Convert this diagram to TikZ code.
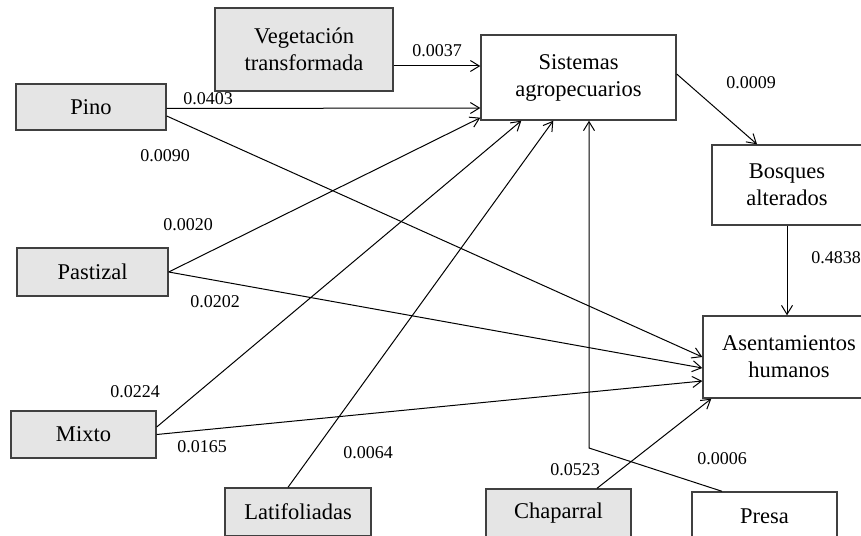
\documentclass[tikz,border=0pt]{standalone}
\usepackage{fontspec}
\setmainfont{Liberation Serif}
\usetikzlibrary{arrows.meta,calc}
\begin{document}
\begin{tikzpicture}[x=0.5pt,y=-0.5pt,
  box/.style={draw=black!75, line width=0.7pt, fill=white, align=center,
              inner sep=0pt, font=\fontsize{11.25}{13.5}\selectfont},
  src/.style={box, fill=black!10},
  arr/.style={-{Straight Barb[length=4.5pt,width=5.5pt]}, line width=0.5pt},
  val/.style={font=\fontsize{9}{10}\selectfont, inner sep=0pt}]
\useasboundingbox (0,0) rectangle (861,535);
\clip (0,0) rectangle (861,535);

% land-cover classes (sources)
\node[src, minimum width=89pt,   minimum height=41.5pt] (veg)   at (304,49.5)   {Vegetaci\'on\\transformada};
\node[src, minimum width=75pt,   minimum height=23pt]   (pino)  at (91,107)     {Pino};
\node[src, minimum width=75.5pt, minimum height=24pt]   (past)  at (92.5,272)   {Pastizal};
\node[src, minimum width=72.5pt, minimum height=23.5pt] (mixto) at (83.5,434.5) {Mixto};
\node[src, minimum width=73pt,   minimum height=24pt]   (lati)  at (298,512)    {Latifoliadas};
\node[src, minimum width=72.5pt, minimum height=24pt]   (chap)  at (558.5,513)  {Chaparral};

% resulting classes
\node[box, minimum width=97.5pt, minimum height=42.5pt] (sis)   at (578.5,77.5) {Sistemas\\agropecuarios};
\node[box, minimum width=75pt,   minimum height=40pt]   (bos)   at (787,185)    {Bosques\\alterados};
\node[box, minimum width=86pt,   minimum height=41pt]   (asen)  at (789,357)    {Asentamientos\\humanos};
\node[box, minimum width=72.5pt, minimum height=24pt]   (presa) at (764.5,516)  {Presa};

% transitions into Sistemas agropecuarios
\draw[arr] ([yshift=-8.25pt]veg.east) -- ([yshift=5.75pt]sis.west);
\draw[arr] ([yshift=-0.75pt]pino.east) -- ([yshift=-15.25pt]sis.west);
\draw[arr] (past.east) -- ([yshift=1.5pt]sis.south west);
\draw[arr] ([yshift=3.75pt]mixto.east) -- ([xshift=20.5pt]sis.south west);
\draw[arr] ([xshift=-5pt]lati.north) -- ([xshift=36.5pt]sis.south west);
\coordinate (elbow) at (589,448);
\draw[arr] ([xshift=-21.25pt]presa.north) -- (elbow) -- (elbow |- sis.south);

% transitions into Asentamientos humanos
\draw[arr] ([yshift=-4.5pt]pino.east) -- (asen.west);
\draw[arr] (past.east) -- ([yshift=-5.5pt]asen.west);
\draw[arr] (mixto.east) -- ([yshift=-12pt]asen.west);
\draw[arr] ([xshift=19.25pt]chap.north) -- ([xshift=4.5pt]asen.south west);

% chain through Bosques alterados
\draw[arr] ([yshift=1.75pt]sis.east) -- ([xshift=-15pt]bos.north);
\draw[arr] (bos.south) -- (bos.south |- asen.north);

% transition rates
\node[val] (v1)  at (437,51)  {0.0037};
\node[val] (v2)  at (208,99)  {0.0403};
\node[val] (v3)  at (165,156) {0.0090};
\node[val] (v4)  at (188,225) {0.0020};
\node[val] (v5)  at (215,302) {0.0202};
\node[val] (v6)  at (135,392) {0.0224};
\node[val] (v7)  at (202,447) {0.0165};
\node[val] (v8)  at (368,453) {0.0064};
\node[val] (v9)  at (751,83)  {0.0009};
\node[val] (v10) at (836,258) {0.4838};
\node[val] (v11) at (575,470) {0.0523};
\node[val] (v12) at (722,459) {0.0006};
\end{tikzpicture}
\end{document}
